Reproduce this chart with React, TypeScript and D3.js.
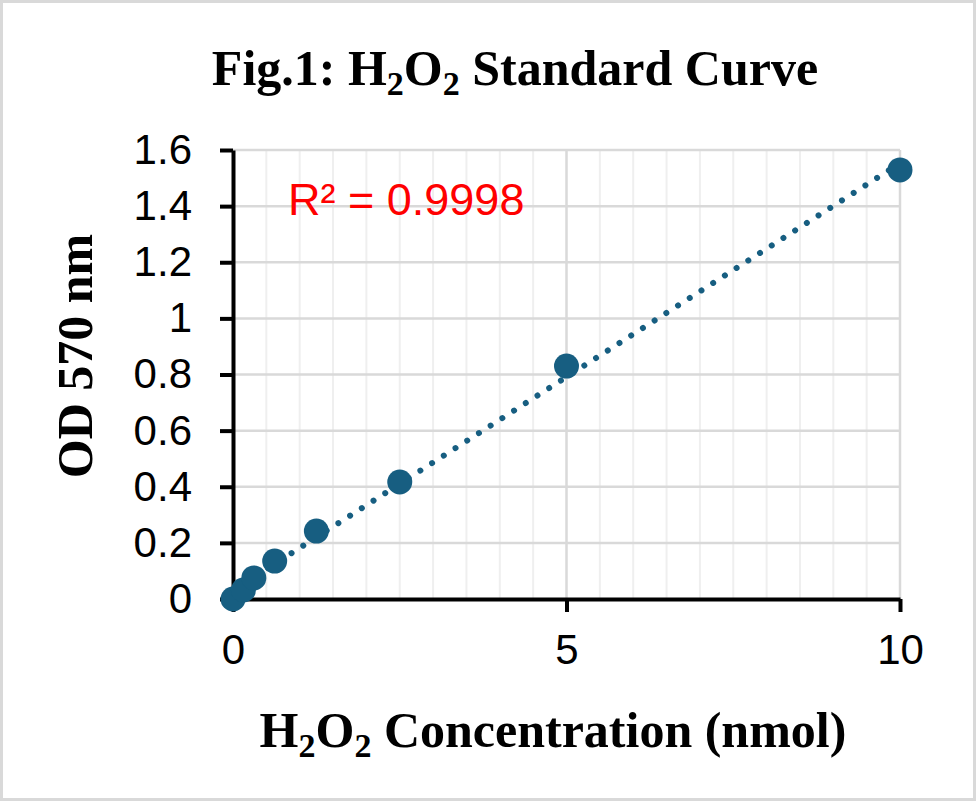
import React, { useEffect, useRef } from 'react';
import * as d3 from 'd3';

const concentrations = [0, 0.15625, 0.3125, 0.625, 1.25, 2.5, 5, 10];
const odValues = [0, 0.032, 0.075, 0.135, 0.242, 0.417, 0.83, 1.529];

const yTicks = [0, 0.2, 0.4, 0.6, 0.8, 1, 1.2, 1.4, 1.6];
const xTicks = [0, 5, 10];
const xMinorGrid = d3.range(0.5, 10, 0.5).filter(v => v % 5 !== 0);
const rSquaredLabel = 'R² = 0.9998';

const W = 976;
const H = 801;
const PT = '#175e81';
const SANS = 'Liberation Sans, Arial, sans-serif';
const SERIF = 'Liberation Serif, Times New Roman, serif';

const App: React.FC = () => {
  const ref = useRef<SVGSVGElement | null>(null);

  useEffect(() => {
    if (!ref.current) return;
    const svg = d3.select(ref.current);
    svg.selectAll('*').remove();

    const x = d3.scaleLinear().domain([0, 10]).range([233, 900]);
    const y = d3.scaleLinear().domain([0, 1.6]).range([599, 150]);

    // outer frame
    svg.append('rect')
      .attr('x', 1.5).attr('y', 1.5)
      .attr('width', W - 3).attr('height', H - 3)
      .attr('fill', '#fff')
      .attr('stroke', '#d9d9d9')
      .attr('stroke-width', 3);

    const grid = svg.append('g');
    // minor vertical gridlines
    grid.selectAll('line.minor')
      .data(xMinorGrid)
      .enter()
      .append('line')
      .attr('x1', d => x(d)).attr('x2', d => x(d))
      .attr('y1', y(0)).attr('y2', y(1.6))
      .attr('stroke', '#efefef')
      .attr('stroke-width', 2);
    // major horizontal gridlines
    grid.selectAll('line.hmaj')
      .data(yTicks.slice(1))
      .enter()
      .append('line')
      .attr('x1', x(0)).attr('x2', x(10))
      .attr('y1', d => y(d)).attr('y2', d => y(d))
      .attr('stroke', '#d9d9d9')
      .attr('stroke-width', 2.5);
    // major vertical gridlines
    grid.selectAll('line.vmaj')
      .data(xTicks.slice(1))
      .enter()
      .append('line')
      .attr('x1', d => x(d)).attr('x2', d => x(d))
      .attr('y1', y(0)).attr('y2', y(1.6))
      .attr('stroke', '#d9d9d9')
      .attr('stroke-width', 2.5);

    // y axis
    const yAxis = svg.append('g')
      .attr('transform', `translate(${x(0)},0)`)
      .call(d3.axisLeft(y).tickValues(yTicks).tickSize(13).tickSizeOuter(0).tickPadding(28)
        .tickFormat(d => String(+d)));
    yAxis.select('.domain').attr('stroke', '#000').attr('stroke-width', 4);
    yAxis.selectAll('.tick line').attr('stroke', '#000').attr('stroke-width', 4);
    yAxis.selectAll('.tick text')
      .attr('font-family', SANS).attr('font-size', 42).attr('fill', '#000');

    // x axis
    const xAxis = svg.append('g')
      .attr('transform', `translate(0,${y(0)})`)
      .call(d3.axisBottom(x).tickValues(xTicks).tickSize(13).tickSizeOuter(0).tickPadding(22)
        .tickFormat(d => String(+d)));
    xAxis.select('.domain').attr('stroke', '#000').attr('stroke-width', 4);
    xAxis.selectAll('.tick line').attr('stroke', '#000').attr('stroke-width', 4);
    xAxis.selectAll('.tick text')
      .attr('font-family', SANS).attr('font-size', 42).attr('fill', '#000');

    // linear trendline (least squares on the points)
    const mx = d3.mean(concentrations) as number;
    const my = d3.mean(odValues) as number;
    let sxy = 0;
    let sxx = 0;
    concentrations.forEach((c, i) => {
      sxy += (c - mx) * (odValues[i] - my);
      sxx += (c - mx) * (c - mx);
    });
    const slope = sxy / sxx;
    const icpt = my - slope * mx;
    const ext = d3.extent(concentrations) as [number, number];
    const line = d3.line<number>().x(d => x(d)).y(d => y(slope * d + icpt));
    svg.append('path')
      .datum(ext)
      .attr('d', line)
      .attr('fill', 'none')
      .attr('stroke', PT)
      .attr('stroke-width', 6)
      .attr('stroke-linecap', 'round')
      .attr('stroke-dasharray', '0.01 13.9');

    // data points
    svg.append('g')
      .selectAll('circle')
      .data(concentrations)
      .enter()
      .append('circle')
      .attr('cx', d => x(d))
      .attr('cy', (_d, i) => y(odValues[i]))
      .attr('r', 12.5)
      .attr('fill', PT);

    // R squared
    svg.append('text')
      .attr('x', 288).attr('y', 215)
      .attr('font-family', SANS).attr('font-size', 45)
      .attr('fill', '#ff0000')
      .text(rSquaredLabel);

    // title with subscripts
    const title = svg.append('text')
      .attr('x', 515).attr('y', 85)
      .attr('text-anchor', 'middle')
      .attr('font-family', SERIF).attr('font-weight', 'bold').attr('font-size', 50)
      .attr('fill', '#000');
    title.append('tspan').text('Fig.1: H');
    title.append('tspan').attr('font-size', 34).attr('dy', 10).text('2');
    title.append('tspan').attr('dy', -10).text('O');
    title.append('tspan').attr('font-size', 34).attr('dy', 10).text('2');
    title.append('tspan').attr('dy', -10).text(' Standard Curve');

    // x axis title
    const xt = svg.append('text')
      .attr('x', 553).attr('y', 747)
      .attr('text-anchor', 'middle')
      .attr('font-family', SERIF).attr('font-weight', 'bold').attr('font-size', 50)
      .attr('fill', '#000');
    xt.append('tspan').text('H');
    xt.append('tspan').attr('font-size', 34).attr('dy', 10).text('2');
    xt.append('tspan').attr('dy', -10).text('O');
    xt.append('tspan').attr('font-size', 34).attr('dy', 10).text('2');
    xt.append('tspan').attr('dy', -10).text(' Concentration (nmol)');

    // y axis title
    svg.append('text')
      .attr('transform', `translate(92,356) rotate(-90)`)
      .attr('text-anchor', 'middle')
      .attr('font-family', SERIF).attr('font-weight', 'bold').attr('font-size', 50)
      .attr('fill', '#000')
      .text('OD 570 nm');
  }, []);

  return (
    <svg
      ref={ref}
      width={W}
      height={H}
      style={{ position: 'absolute', left: 0, top: 0, background: '#fff' }}
    />
  );
};

export default App;
